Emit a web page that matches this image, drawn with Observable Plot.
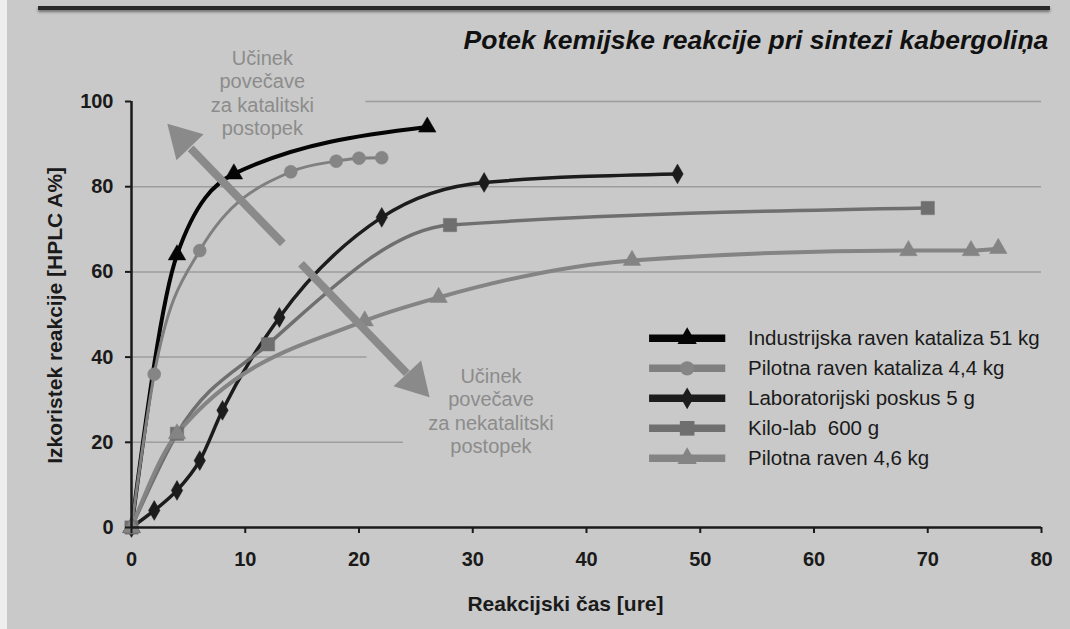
<!DOCTYPE html>
<html><head><meta charset="utf-8">
<script src="https://cdn.jsdelivr.net/npm/d3@7"></script>
<script src="https://cdn.jsdelivr.net/npm/@observablehq/plot@0.6"></script>
<style>
body{margin:0;background:#c9c9c9;width:1070px;height:629px;overflow:hidden;position:relative;font-family:"Liberation Sans",Arial,sans-serif}
#chart{position:absolute;left:0;top:0}
#topline{position:absolute;left:38px;top:6px;width:1012px;height:4px;background:#2a2a2a;box-shadow:0 2px 3px rgba(0,0,0,0.45)}
#leftstrip{position:absolute;left:0;top:0;width:7px;height:629px;background:#eeeeee}
</style></head><body>
<div id="chart"></div>
<div id="topline"></div>
<div id="leftstrip"></div>
<script>
// ---- data ----
const seriesNames = [
  "Industrijska raven kataliza 51 kg",
  "Pilotna raven kataliza 4,4 kg",
  "Laboratorijski poskus 5 g",
  "Kilo-lab  600 g",
  "Pilotna raven 4,6 kg"
];
const indX  = [0, 4, 9, 26];
const indY  = [0, 64, 83, 94];
const pkX   = [0, 2, 6, 14, 18, 20, 22];
const pkY   = [0, 36, 65, 83.5, 86, 86.7, 86.8];
const labX  = [0, 2, 4, 6, 8, 13, 22, 31, 48];
const labY  = [0, 4, 8.7, 15.7, 27.5, 49.3, 72.8, 81, 83];
const kiloX = [0, 4, 12, 28, 70];
const kiloY = [0, 22, 43, 71, 75];
const prX   = [0, 4, 20.5, 27, 44, 68.3, 73.8, 76.2];
const prY   = [0, 22, 48.5, 54, 62.7, 65, 65, 65.5];
const xTicks = [0, 10, 20, 30, 40, 50, 60, 70, 80];
const yTicks = [0, 20, 40, 60, 80, 100];
const gridTicks = [20, 40, 60, 80, 100];

const titleText = "Potek kemijske reakcije pri sintezi kabergoliņa";
const xLabel = "Reakcijski čas [ure]";
const yLabel = "Izkoristek reakcije [HPLC A%]";
const note1 = "Učinek\npovečave\nza katalitski\npostopek";
const note2 = "Učinek\npovečave\nza nekatalitski\npostopek";

// ---- styles ----
const BG = "#c9c9c9";
const styles = [
  {stroke: "#050505", width: 4,   symbol: "triangle", r: 6.5, fill: "#050505"},
  {stroke: "#7f7f7f", width: 3,   symbol: "circle",   r: 6.5, fill: "#858585"},
  {stroke: "#1c1c1c", width: 3.5, symbol: "diamond",  r: 6,   fill: "#1c1c1c"},
  {stroke: "#6f6f6f", width: 3.5, symbol: "square",   r: 7.5, fill: "#6f6f6f"},
  {stroke: "#848484", width: 4,   symbol: "triangle", r: 6.5, fill: "#848484"}
];
const xsAll = [indX, pkX, labX, kiloX, prX];
const ysAll = [indY, pkY, labY, kiloY, prY];
const series = seriesNames.map((name, i) => ({
  name, ...styles[i],
  pts: xsAll[i].map((x, j) => ({x, y: ysAll[i][j]}))
}));

// ---- layout (data coordinates) ----
const masks = [
  {x1: 0, x2: 20.6, y1: 98.5, y2: 101.5},
  {x1: 20.7, x2: 81, y1: 38.5, y2: 41.5},
  {x1: 23.9, x2: 81, y1: 18.5, y2: 21.5}
];
const legX1 = 45.5, legX2 = 52.2, legTX = 54.2, legY0 = 44.4, legStep = 7.04;
const legend = series.map((s, i) => ({...s, ly: legY0 - i * legStep}));
const arrowColor = "#8a8a8a";
const arrows = [
  {x1: 13.3, y1: 66.7, x2: 5.2, y2: 89, hx: 4.48, hy: 91.1, rot: -44},
  {x1: 14.9, y1: 61.9, x2: 24.2, y2: 36.2, hx: 24.9, hy: 34.3, rot: 137}
];

const marks = [
  Plot.ruleY(gridTicks, {stroke: "#9d9d9d", strokeWidth: 1.5}),
  Plot.rect(masks, {x1: "x1", x2: "x2", y1: "y1", y2: "y2", fill: BG})
];
series.forEach(s => {
  marks.push(Plot.line(s.pts, {x: "x", y: "y", curve: "monotone-x", stroke: s.stroke, strokeWidth: s.width}));
});
series.forEach(s => {
  marks.push(Plot.dot(s.pts, {x: "x", y: "y", symbol: s.symbol, r: s.r, fill: s.fill, stroke: s.fill, strokeWidth: 0.5}));
});
// arrows
marks.push(Plot.link(arrows, {x1: "x1", y1: "y1", x2: "x2", y2: "y2", stroke: arrowColor, strokeWidth: 8}));
marks.push(Plot.dot(arrows, {x: "hx", y: "hy", symbol: "triangle", r: 14, rotate: "rot", fill: arrowColor}));
// axes
marks.push(Plot.ruleX([0], {y1: 0, y2: 100, stroke: "#1a1a1a", strokeWidth: 2.5}));
marks.push(Plot.ruleY([0], {x1: 0, x2: 80, stroke: "#1a1a1a", strokeWidth: 2.5}));
marks.push(Plot.axisY({ticks: yTicks, tickSize: 6, tickPadding: 12, label: null, fontSize: 20, fontWeight: "bold", color: "#1a1a1a", strokeWidth: 2}));
marks.push(Plot.axisX({ticks: xTicks, tickSize: 6, tickPadding: 18, label: null, fontSize: 20, fontWeight: "bold", color: "#1a1a1a", strokeWidth: 2}));
// texts
marks.push(Plot.text([titleText], {x: 80.6, y: 114.3, text: d => d, textAnchor: "end", fontSize: 26.5, fontWeight: "bold", fontStyle: "italic", fill: "#111"}));
marks.push(Plot.text([xLabel], {x: 38.15, y: -18.1, text: d => d, fontSize: 21, fontWeight: "bold", fill: "#1a1a1a"}));
marks.push(Plot.text([yLabel], {x: -6.68, y: 49.8, text: d => d, rotate: -90, fontSize: 21, fontWeight: "bold", fill: "#1a1a1a"}));
marks.push(Plot.text([note1], {x: 11.5, y: 102.1, text: d => d, fontSize: 20, lineHeight: 1.17, fill: "#8c8c8c"}));
marks.push(Plot.text([note2], {x: 31.6, y: 27.5, text: d => d, fontSize: 20, lineHeight: 1.17, fill: "#8c8c8c"}));
// legend
marks.push(Plot.link(legend, {x1: () => legX1, x2: () => legX2, y1: "ly", y2: "ly", stroke: "stroke", strokeWidth: 7.5}));
legend.forEach(s => {
  marks.push(Plot.dot([s], {x: () => (legX1 + legX2) / 2, y: "ly", symbol: s.symbol, r: s.r * 1.1, fill: s.fill}));
});
marks.push(Plot.text(legend, {x: () => legTX, y: "ly", text: "name", textAnchor: "start", fontSize: 20.5, fill: "#1a1a1a"}));

const chart = Plot.plot({
  width: 1070, height: 629,
  marginLeft: 131, marginRight: 29, marginTop: 101, marginBottom: 102,
  x: {domain: [0, 80]},
  y: {domain: [0, 100]},
  color: {type: "identity"},
  style: {background: BG, fontFamily: "'Liberation Sans', Arial, sans-serif", fontSize: "16px", overflow: "visible"},
  marks
});
document.getElementById("chart").appendChild(chart);
</script>
</body></html>
